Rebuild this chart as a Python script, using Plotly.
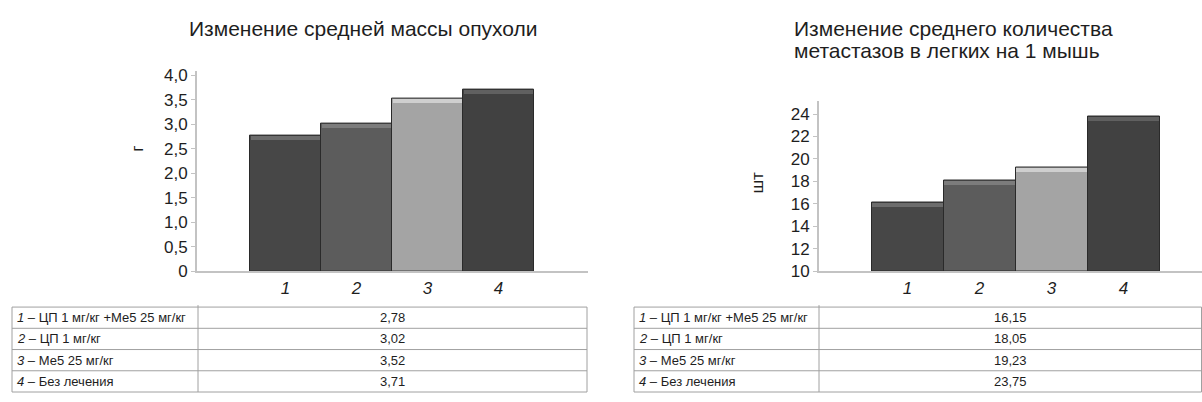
import plotly.graph_objects as go

# ---- data ----
categories = ["1", "2", "3", "4"]
group_labels = ["ЦП 1 мг/кг +Ме5 25 мг/кг", "ЦП 1 мг/кг", "Ме5 25 мг/кг", "Без лечения"]
tumor_mass = [2.78, 3.02, 3.52, 3.71]
metastases = [16.15, 18.05, 19.23, 23.75]

mass_tickvals = [0, 0.5, 1.0, 1.5, 2.0, 2.5, 3.0, 3.5, 4.0]
mass_ticktext = ["0", "0,5", "1,0", "1,5", "2,0", "2,5", "3,0", "3,5", "4,0"]
met_tickvals = [10, 12, 14, 16, 18, 20, 22, 24]
met_ticktext = ["10", "12", "14", "16", "18", "20", "22", "24"]

title_left = "Изменение средней массы опухоли"
title_right_lines = ["Изменение среднего количества", "метастазов в легких на 1 мышь"]

# ---- style ----
W, H = 1202, 402
bar_colors = ["#474747", "#5c5c5c", "#a4a4a4", "#414141"]
cap_colors = ["#6c6c6c", "#7c7c7c", "#cfcfcf", "#606060"]
axis_color = "#c3c3c3"
text_color = "#1e1e1e"
FONT = "Liberation Sans, Arial, sans-serif"
TFONT = "Liberation Sans Narrow, Liberation Sans, Arial, sans-serif"


def fmt(v):
    return f"{v:.2f}".replace(".", ",")


def px_x(p):
    return p / W


def px_y(p):
    return 1 - p / H


fig = go.Figure()

# left chart bars
fig.add_trace(go.Bar(x=categories, y=tumor_mass, width=1,
                     marker=dict(color=bar_colors, line=dict(color="#2a2a2a", width=1)),
                     xaxis="x", yaxis="y", showlegend=False, hoverinfo="skip"))
cap_l = 0.08
fig.add_trace(go.Bar(x=categories, y=[cap_l] * len(tumor_mass),
                     base=[v - cap_l for v in tumor_mass], width=0.98,
                     marker=dict(color=cap_colors, line=dict(width=0)),
                     xaxis="x", yaxis="y", showlegend=False, hoverinfo="skip"))

# right chart bars
fig.add_trace(go.Bar(x=categories, y=[v - 10 for v in metastases], base=10, width=1,
                     marker=dict(color=bar_colors, line=dict(color="#2a2a2a", width=1)),
                     xaxis="x2", yaxis="y2", showlegend=False, hoverinfo="skip"))
cap_r = 0.35
fig.add_trace(go.Bar(x=categories, y=[cap_r] * len(metastases),
                     base=[v - cap_r for v in metastases], width=0.98,
                     marker=dict(color=cap_colors, line=dict(width=0)),
                     xaxis="x2", yaxis="y2", showlegend=False, hoverinfo="skip"))

axis_common = dict(showgrid=False, zeroline=False, showline=True, linecolor=axis_color, linewidth=2)

fig.update_layout(
    width=W, height=H,
    margin=dict(l=0, r=0, t=0, b=0),
    paper_bgcolor="white", plot_bgcolor="white",
    barmode="overlay", bargap=0,
    font=dict(family=FONT, color=text_color),
    xaxis=dict(domain=[px_x(197), px_x(588)], range=[-1.246, 4.26], anchor="y",
               ticks="", tickfont=dict(size=17, style="italic"), **axis_common),
    yaxis=dict(domain=[px_y(277), px_y(69)], range=[0, 4.0985], anchor="x",
               tickvals=mass_tickvals, ticktext=mass_ticktext, ticks="outside", ticklen=4,
               tickcolor=axis_color, tickfont=dict(size=17), **axis_common),
    xaxis2=dict(domain=[px_x(819), 1.0], range=[-1.23, 4.09], anchor="y2",
                ticks="", tickfont=dict(size=17, style="italic"), **axis_common),
    yaxis2=dict(domain=[px_y(277), px_y(100)], range=[10, 25.2], anchor="x2",
                tickvals=met_tickvals, ticktext=met_ticktext, ticks="outside", ticklen=4,
                tickcolor=axis_color, tickfont=dict(size=17), **axis_common),
)

ann = []
shapes = []
ann.append(dict(text=title_left, x=px_x(363), y=px_y(25), xref="paper", yref="paper",
                xanchor="center", yanchor="middle", showarrow=False, font=dict(size=21)))
for i, line in enumerate(title_right_lines):
    ann.append(dict(text=line, x=px_x(792), y=px_y(25 + 23 * i), xref="paper", yref="paper",
                    xanchor="left", yanchor="middle", showarrow=False, font=dict(size=21)))
ann.append(dict(text="г", x=px_x(138), y=px_y(150), xref="paper", yref="paper", textangle=-90,
                xanchor="center", yanchor="middle", showarrow=False, font=dict(size=17)))
ann.append(dict(text="шт", x=px_x(758), y=px_y(185), xref="paper", yref="paper", textangle=-90,
                xanchor="center", yanchor="middle", showarrow=False, font=dict(size=17)))

# data tables below the charts (legend of groups + values)
row_labels = [f"<i>{c}</i> – {g}" for c, g in zip(categories, group_labels)]
line_style = dict(color="#a0a0a0", width=1)
TOP, ROW_H = 314, 22


def add_table(values, x0, x1, divider):
    n = len(values)
    for r in range(n + 1):
        yy = TOP + r * ROW_H
        shapes.append(dict(type="line", xref="paper", yref="paper",
                           x0=px_x(x0), x1=px_x(x1), y0=px_y(yy), y1=px_y(yy), line=line_style))
    for xx in (x0, divider, x1):
        shapes.append(dict(type="line", xref="paper", yref="paper",
                           x0=px_x(xx), x1=px_x(xx), y0=px_y(TOP - (2 if xx == divider else 0)),
                           y1=px_y(TOP + n * ROW_H), line=line_style))
    for r, (lab, v) in enumerate(zip(row_labels, values)):
        yc = TOP + r * ROW_H + ROW_H / 2
        ann.append(dict(text=lab, x=px_x(x0 + 3), y=px_y(yc), xref="paper", yref="paper",
                        xanchor="left", yanchor="middle", showarrow=False,
                        font=dict(family=TFONT, size=13, color=text_color)))
        ann.append(dict(text=fmt(v), x=px_x((divider + x1) / 2), y=px_y(yc), xref="paper",
                        yref="paper", xanchor="center", yanchor="middle", showarrow=False,
                        font=dict(family=TFONT, size=13, color=text_color)))


add_table(tumor_mass, 12, 587, 198)
add_table(metastases, 634, 1201.5, 819)

fig.update_layout(annotations=ann, shapes=shapes)

fig.write_html("out.html")
